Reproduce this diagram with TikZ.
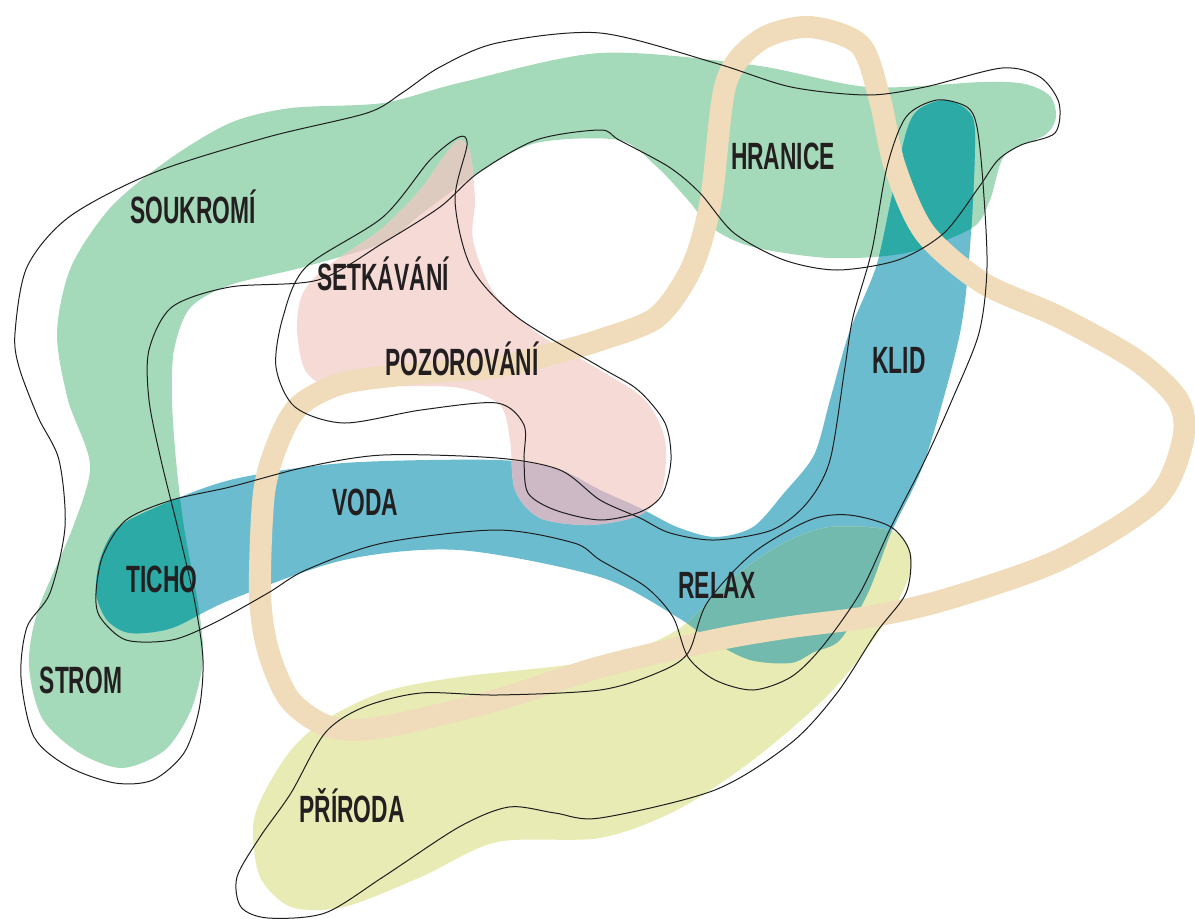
\documentclass[tikz,border=0pt]{standalone}
\usepackage{fontspec}
\newfontfamily\labelfont[FakeStretch=0.6]{Liberation Sans}
\definecolor{greenfill}{HTML}{A4D9B9}
\definecolor{bluefill}{HTML}{6CBCD0}
\definecolor{tealfill}{HTML}{2BAAA6}
\definecolor{pinkfill}{HTML}{F5DAD6}
\definecolor{tipfill}{HTML}{DECBBF}
\definecolor{mauvefill}{HTML}{CDB8C6}
\definecolor{yellowfill}{HTML}{E8EBB3}
\definecolor{byfill}{HTML}{72BAAE}
\definecolor{tanline}{HTML}{F0DCBA}
\definecolor{inkline}{HTML}{1E1E1E}
\definecolor{textdark}{HTML}{231F20}
\tikzset{
  contour/.style={draw=inkline, line width=1pt},
  tanloop/.style={draw=tanline, line width=22pt, line join=round},
  word/.style={font=\labelfont\bfseries\fontsize{38}{40}\selectfont, text=textdark, anchor=base, inner sep=0pt},
}
\begin{document}
\begin{tikzpicture}[x=1pt,y=-1pt]
\useasboundingbox (0,0) rectangle (1195,919);
% saved shapes
\path[save path=\greenP] plot[smooth cycle] coordinates {(122,768) (78,752) (42,718) (29,665) (38,610) (73,527) (90,465) (68,400) (57,333) (71,267) (111,207) (168,160) (230,123) (291,108) (383,103) (459,83) (600,53) (753,65) (868,87) (983,82) (1025,84) (1050,96) (1056,117) (1045,135) (1005,155) (990,200) (972,228) (906,253) (830,258) (753,247) (712,228) (688,200) (657,167) (619,140) (536,143) (478,173) (420,215) (383,243) (300,268) (230,285) (190,308) (174,350) (172,400) (176,460) (184,527) (199,610) (203,660) (191,710) (165,750)};
\path[save path=\blueP] plot[smooth cycle] coordinates {(96,593) (100,560) (115,530) (150,510) (230,480) (344,463) (497,460) (560,470) (600,490) (640,508) (677,527) (715,537) (753,527) (784,493) (814,455) (830,400) (849,333) (876,267) (891,200) (906,133) (918,110) (944,100) (967,110) (975,133) (971,233) (960,333) (925,460) (891,533) (868,593) (840,640) (814,652) (791,663) (750,660) (710,640) (677,617) (600,577) (459,550) (344,560) (230,600) (172,628) (130,633) (107,620)};
\path[save path=\pinkP] plot[smooth cycle] coordinates {(459,140) (470,152) (475,200) (473,240) (494,293) (540,335) (600,370) (645,400) (665,440) (662,490) (640,515) (590,525) (540,518) (515,490) (510,440) (500,405) (460,388) (400,386) (330,386) (305,370) (297,330) (302,295) (325,268) (380,230) (420,190) (445,155)};
\path[save path=\yellowP] plot[smooth cycle] coordinates {(253,827) (264,793) (291,750) (325,720) (383,692) (459,677) (600,660) (677,630) (730,580) (780,545) (830,527) (895,532) (912,565) (887,620) (830,693) (753,760) (677,810) (600,838) (497,842) (421,877) (344,907) (291,907) (260,877)};
% fills
\fill[greenfill, use path=\greenP];
\fill[bluefill, use path=\blueP];
\fill[pinkfill, use path=\pinkP];
\begin{scope}
  \clip[use path=\greenP];
  \fill[tealfill, use path=\blueP];
  \fill[tipfill, use path=\pinkP];
\end{scope}
\begin{scope}
  \clip[use path=\blueP];
  \fill[mauvefill, use path=\pinkP];
\end{scope}
\fill[yellowfill, use path=\yellowP];
\begin{scope}
  \clip[use path=\yellowP];
  \fill[byfill, use path=\blueP];
\end{scope}
% tan loop
\draw[tanloop] plot[smooth cycle] coordinates {(809,27) (860,45) (880,100) (895,167) (925,233) (983,283) (1059,317) (1136,360) (1178,400) (1183,440) (1155,500) (1059,560) (944,600) (868,617) (791,627) (715,640) (600,667) (497,700) (383,727) (330,727) (290,700) (268,650) (260,593) (264,493) (279,440) (300,405) (344,383) (421,373) (497,367) (555,353) (600,340) (657,317) (692,267) (711,200) (726,83) (760,40)};
% contours
\draw[contour] plot[smooth cycle] coordinates {(115,783) (69,767) (34,737) (21,677) (27,627) (50,593) (65,527) (59,460) (38,417) (19,367) (15,333) (27,267) (69,217) (153,173) (268,137) (367,113) (402,93) (440,67) (497,43) (600,33) (715,63) (791,87) (868,95) (925,87) (1002,68) (1040,77) (1059,103) (1055,133) (1021,145) (998,160) (979,187) (944,233) (898,260) (837,270) (784,260) (734,233) (700,193) (669,167) (619,140) (600,130) (536,140) (478,173) (440,207) (383,243) (318,280) (230,287) (172,307) (149,350) (149,400) (161,460) (180,537) (195,603) (203,660) (199,710) (184,753) (153,780)};
\draw[contour] plot[smooth cycle] coordinates {(459,137) (467,145) (455,200) (471,267) (517,317) (600,367) (638,390) (665,423) (671,460) (662,495) (640,512) (600,520) (555,510) (528,493) (524,460) (524,425) (497,403) (421,410) (344,423) (295,407) (276,367) (283,317) (306,267) (383,217) (430,160)};
\draw[contour] plot[smooth cycle] coordinates {(96,593) (103,555) (126,520) (172,500) (230,487) (306,467) (383,455) (497,458) (560,470) (600,500) (640,518) (670,533) (715,540) (772,530) (807,503) (830,460) (845,367) (853,317) (872,250) (887,167) (906,117) (937,100) (967,107) (977,127) (983,183) (987,267) (979,333) (952,400) (925,460) (891,527) (860,593) (822,647) (791,677) (753,690) (715,680) (688,657) (673,617) (646,587) (600,560) (574,543) (497,530) (383,543) (306,570) (268,593) (214,623) (172,640) (126,640) (100,617)};
\draw[contour] plot[smooth cycle] coordinates {(600,690) (497,695) (421,693) (364,707) (325,733) (291,793) (260,837) (237,877) (241,907) (268,918) (325,913) (383,877) (459,827) (509,807) (555,813) (600,818) (715,790) (791,743) (837,693) (876,633) (906,593) (910,553) (891,527) (849,515) (810,520) (753,553) (707,603) (688,653) (657,673)};
% labels
\node[word] (soukromi) at (193,223) {SOUKROMÍ};
\node[word] (setkavani) at (383,290) {SETKÁVÁNÍ};
\node[word] (pozorovani) at (462,375) {POZOROVÁNÍ};
\node[word] (hranice) at (783,169) {HRANICE};
\node[word] (klid) at (899,373) {KLID};
\node[word] (voda) at (365,515) {VODA};
\node[word] (ticho) at (162,592) {TICHO};
\node[word] (relax) at (717,598) {RELAX};
\node[word] (strom) at (81,693) {STROM};
\node[word] (priroda) at (352,822) {PŘÍRODA};
\end{tikzpicture}
\end{document}
